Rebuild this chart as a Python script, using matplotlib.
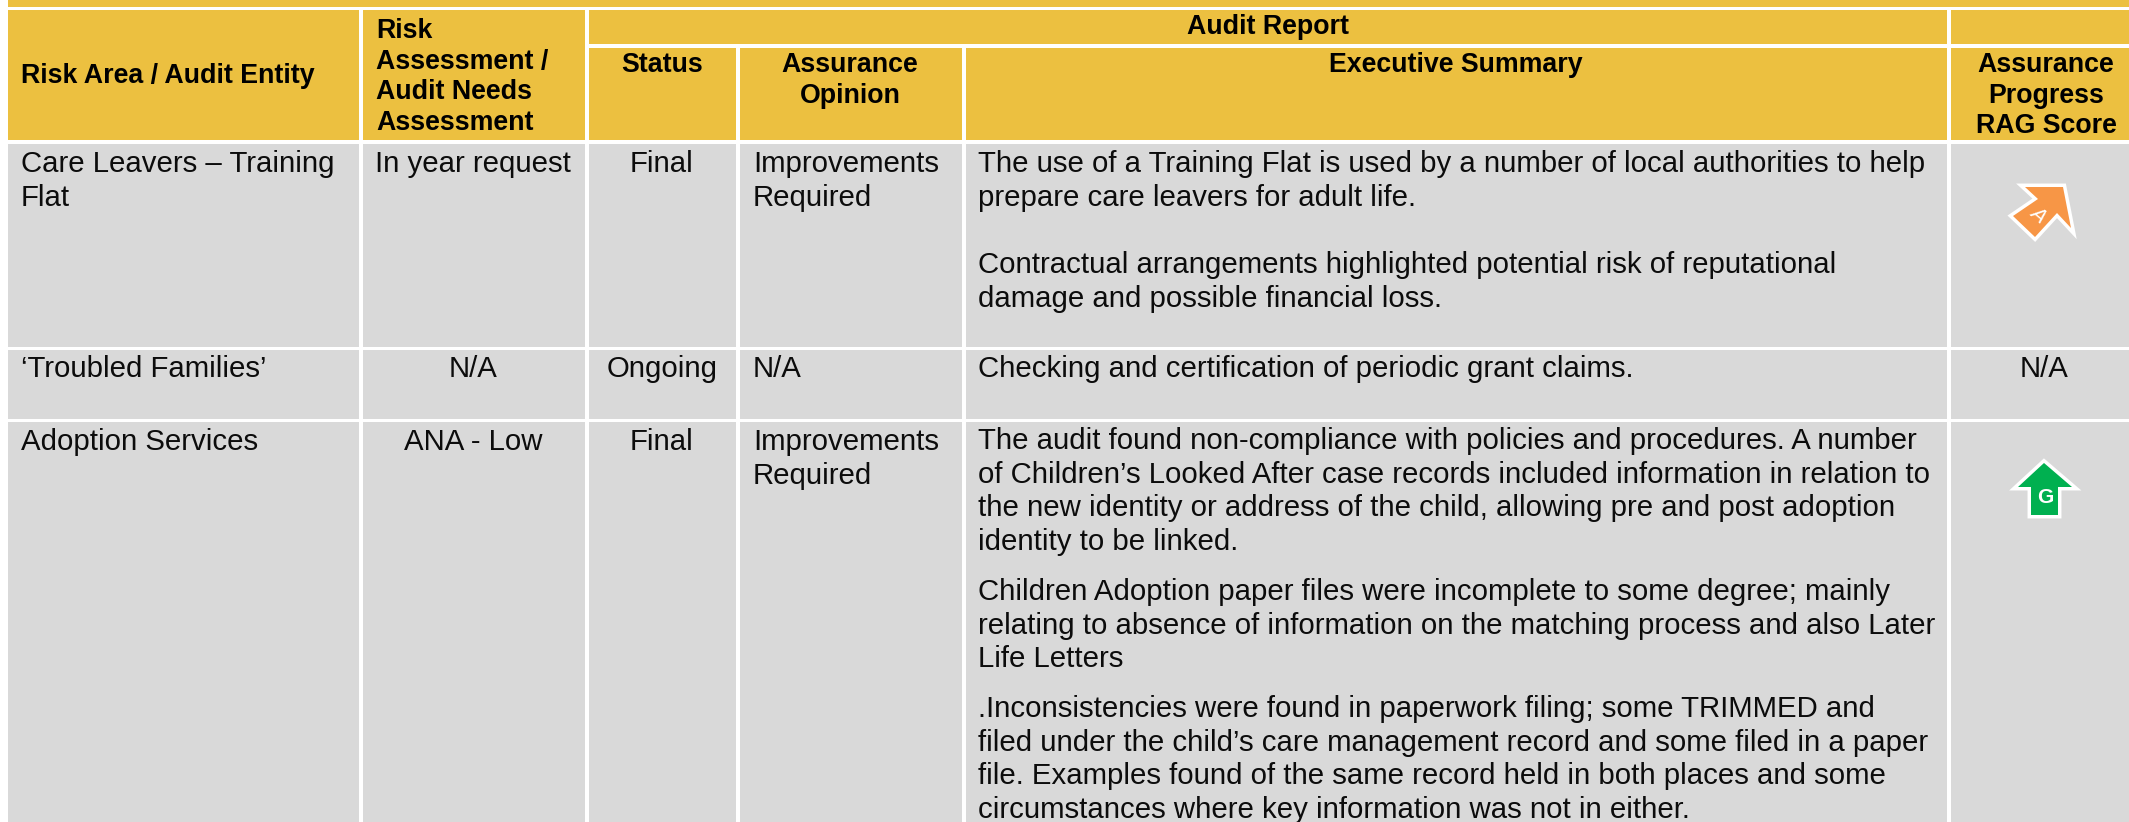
import matplotlib
matplotlib.use("Agg")
import matplotlib.pyplot as plt
from matplotlib.patches import Rectangle, Polygon

plt.rcParams['font.family'] = ['Liberation Sans', 'DejaVu Sans']

W, H = 2129, 822
GOLD = "#ECC040"
GREY = "#D9D9D9"

header_top = "Audit Report"
headers = ["Risk Area / Audit Entity", "Risk\nAssessment /\nAudit Needs\nAssessment", "Status",
           "Assurance\nOpinion", "Executive Summary", "Assurance\nProgress\nRAG Score"]
areas = ["Care Leavers – Training\nFlat", "‘Troubled Families’", "Adoption Services"]
assessments = ["In year request", "N/A", "ANA - Low"]
statuses = ["Final", "Ongoing", "Final"]
opinions = ["Improvements\nRequired", "N/A", "Improvements\nRequired"]
summary_1a = "The use of a Training Flat is used by a number of local authorities to help\nprepare care leavers for adult life."
summary_1b = "Contractual arrangements highlighted potential risk of reputational\ndamage and possible financial loss."
summary_2 = "Checking and certification of periodic grant claims."
summary_3a = ("The audit found non-compliance with policies and procedures. A number\n"
              "of Children’s Looked After case records included information in relation to\n"
              "the new identity or address of the child, allowing pre and post adoption\n"
              "identity to be linked.")
summary_3b = ("Children Adoption paper files were incomplete to some degree; mainly\n"
              "relating to absence of information on the matching process and also Later\n"
              "Life Letters")
summary_3c = (".Inconsistencies were found in paperwork filing; some TRIMMED and\n"
              "filed under the child’s care management record and some filed in a paper\n"
              "file. Examples found of the same record held in both places and some\n"
              "circumstances where key information was not in either.")
rag_na = "N/A"

# column and row edges in pixels
cols = [(8, 359), (363, 585), (589, 736), (740, 962), (966, 1947), (1951, 2129)]
rows = [(144, 347), (350, 419), (422, 822)]

fig = plt.figure(figsize=(W / 100, H / 100), dpi=100, facecolor="white")
ax = fig.add_axes([0, 0, 1, 1])
ax.set_xlim(0, W)
ax.set_ylim(H, 0)
ax.axis("off")


def cell(x0, x1, y0, y1, c):
    ax.add_patch(Rectangle((x0, y0), x1 - x0, y1 - y0, fc=c, ec="none"))


# top band
cell(8, W, 0, 7, GOLD)
# header cells
cell(cols[0][0], cols[0][1], 10, 140, GOLD)
cell(cols[1][0], cols[1][1], 10, 140, GOLD)
cell(cols[2][0], cols[4][1], 10, 44, GOLD)
cell(cols[5][0], cols[5][1], 10, 44, GOLD)
for c in cols[2:]:
    cell(c[0], c[1], 48, 140, GOLD)
for r in rows:
    for c in cols:
        cell(c[0], c[1], r[0], r[1], GREY)


def lines(x, y, s, ha, size, step, **kw):
    # y is the baseline of the first line
    for i, line in enumerate(s.split("\n")):
        ax.text(x, y + i * step, line, ha=ha, va="baseline", fontsize=size, clip_on=True, **kw)


def head(x, y, s, ha="center"):
    lines(x, y, s, ha, 19.3, 30.7, fontweight="bold", color="black")


def body(x, y, s, ha="left"):
    lines(x, y, s, ha, 21.2, 33.7, color="#0c0c0c")


def arrow(pts, c):
    # white rim goes under the fill
    ax.add_patch(Polygon(pts, closed=True, fc="white", ec="white", lw=5, joinstyle="miter"))
    ax.add_patch(Polygon(pts, closed=True, fc=c, ec="none"))


head(1268, 34, header_top)
head(21, 83, headers[0], ha="left")
head(376, 38, headers[1], ha="left")
head(662, 72, headers[2])
head(850, 72, headers[3])
head(1456, 72, headers[4])
head(2046, 72, headers[5])

base = [172, 377, 450]
for i in range(3):
    body(21, base[i], areas[i])
    body(473, base[i], assessments[i], ha="center")
    body(662, base[i], statuses[i], ha="center")
    body(753, base[i], opinions[i])

body(978, 172, summary_1a)
body(978, 273, summary_1b)
body(978, 377, summary_2)
body(978, 449, summary_3a)
body(978, 600, summary_3b)
body(978, 717, summary_3c)

body(2044, 377, rag_na, ha="center")

# amber arrow, pointing up right
arrow([(2025, 187), (2063, 187), (2071, 228), (2057, 213), (2035, 237), (2013, 216), (2038, 199)], "#F79646")
ax.text(2038, 214, "A", rotation=-40, ha="center", va="center", fontsize=15, color="white", fontstyle="italic")

# green arrow, pointing up
arrow([(2044, 463), (2072, 487), (2058, 487), (2058, 515), (2031, 515), (2031, 487), (2018, 487)], "#00B050")
ax.text(2045, 497, "G", ha="center", va="center", fontsize=15, fontweight="bold", color="white")

fig.savefig("out.png", dpi=100, facecolor="white")
